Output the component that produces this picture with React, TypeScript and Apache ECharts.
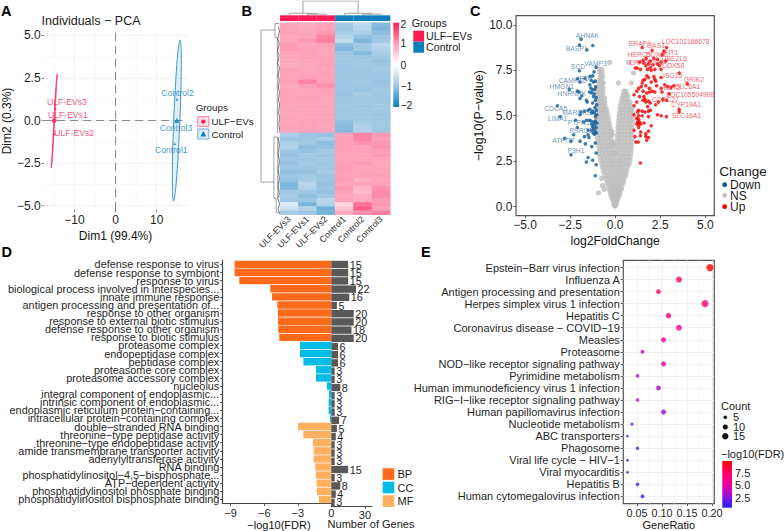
import React, { useEffect, useRef } from "react";
import * as echarts from "echarts";

const FONT = "Liberation Sans";
const RED = "#ff1a55";
const BLUE = "#0a7ebe";
const INK = "#1f1f1f";
const M = "\u2212";

// ---------- Panel A ----------
const pcaUlf = [[-14.7, 0.7], [-15.0, -0.8]];
const pcaUlfMean = [[-14.9, 0.0]];
const pcaCtrl = [[14.9, 1.25], [14.4, -1.35]];
const pcaCtrlMean = [[14.9, 0.0]];
const pcaLabels = [
  { value: [-11.83, 1.09], name: "ULF-EVs3", c: RED },
  { value: [-11.6, 0.32], name: "ULF-EVs1", c: RED },
  { value: [-10.07, -0.72], name: "ULF-EVs2", c: RED },
  { value: [15.07, 1.6], name: "Control2", c: BLUE },
  { value: [14.7, -0.46], name: "Control3", c: BLUE },
  { value: [13.57, -1.74], name: "Control1", c: BLUE },
];
const ellipseUlf = [[-14.2, 2.73], [-14.38, 2], [-14.83, 0], [-15.32, -2], [-15.64, -2.78], [-15.42, -2], [-14.97, 0], [-14.5, 2]];
const ellipseCtrl = [[15.7, 4.72], [15.97, 4.09], [15.95, 2.36], [15.65, 0], [15.15, -2.36], [14.58, -4.09], [14.1, -4.72], [13.83, -4.09], [13.85, -2.36], [14.15, 0], [14.65, 2.36], [15.2, 4.09]];
const pcaMinorX = [-15, -5, 5, 15];
const pcaMinorY = [-3.75, -1.25, 1.25, 3.75];

// ---------- Panel B ----------
const heatCols = ["ULF-EVs3", "ULF-EVs1", "ULF-EVs2", "Control1", "Control2", "Control3"];
const heatRows = [
  [0.95, 0.9, 1.0, -0.95, -0.7, -1.15],
  [0.95, 0.92, 0.98, -1.0, -0.72, -1.2],
  [1.0, 0.95, 1.05, -0.9, -0.85, -1.1],
  [0.92, 0.95, 1.2, -0.72, -1.05, -1.0],
  [0.95, 1.05, 1.25, -0.6, -1.2, -0.95],
  [1.05, 0.95, 1.0, -1.1, -0.95, -0.7],
  [1.05, 1.0, 0.95, -1.2, -0.95, -0.8],
  [0.98, 1.0, 0.95, -1.0, -1.15, -0.9],
  [0.95, 0.98, 0.98, -0.95, -1.0, -0.98],
  [0.92, 0.95, 0.97, -0.98, -0.95, -1.05],
  [0.88, 0.95, 1.0, -1.0, -0.95, -1.0],
  [0.98, 0.95, 0.95, -1.02, -1.0, -0.92],
  [0.95, 0.96, 0.98, -1.0, -0.98, -0.98],
  [0.96, 1.0, 0.95, -0.98, -1.0, -1.0],
  [0.98, 1.22, 1.0, -0.98, -0.95, -1.02],
  [0.9, 1.02, 1.12, -1.0, -1.0, -1.0],
  [0.97, 0.95, 0.98, -1.0, -1.02, -0.95],
  [0.96, 0.97, 0.95, -1.02, -0.9, -0.98],
  [0.98, 0.98, 0.97, -0.98, -0.96, -1.0],
  [0.98, 0.95, 0.95, -1.0, -0.98, -0.98],
  [0.95, 0.98, 0.97, -0.98, -1.0, -0.95],
  [0.97, 0.96, 0.96, -1.0, -0.96, -0.96],
  [0.95, 0.98, 0.98, -0.98, -0.98, -1.0],
  [0.96, 0.97, 0.95, -0.98, -0.95, -1.0],
  [0.93, 0.98, 0.96, -1.1, -0.9, -0.92],
  [0.98, 0.98, 0.94, -1.15, -0.8, -0.95],
  [0.95, 1.0, 0.95, -1.15, -0.82, -0.98],
  [-0.85, -1.0, -1.05, 0.95, 1.22, 1.05],
  [-1.0, -1.0, -0.9, 0.98, 1.2, 1.0],
  [-0.85, -0.95, -1.1, 1.0, 1.1, 1.05],
  [-0.8, -1.08, -1.05, 0.98, 0.98, 1.1],
  [-1.0, -1.05, -0.95, 1.0, 1.0, 1.02],
  [-1.05, -0.95, -1.0, 0.98, 0.95, 1.05],
  [-1.0, -1.0, -0.95, 1.0, 0.98, 0.98],
  [-1.05, -0.95, -1.0, 0.98, 1.05, 0.95],
  [-0.98, -1.0, -0.98, 1.02, 0.95, 0.96],
  [-1.05, -1.05, -0.88, 1.0, 0.95, 0.95],
  [-1.0, -0.95, -0.98, 0.96, 1.0, 1.0],
  [-1.05, -0.9, -1.0, 1.02, 0.85, 0.95],
  [-1.18, -0.72, -1.05, 0.95, 0.95, 0.98],
  [-1.2, -0.8, -1.0, 1.05, 0.78, 1.1],
  [-0.95, -0.95, -1.05, 1.0, 0.72, 1.15],
  [-0.92, -1.08, -0.95, 0.95, 0.85, 1.15],
  [-0.98, -1.0, -0.72, 1.0, 0.9, 1.05],
  [-0.35, -1.25, -0.8, 0.45, 1.35, 1.05],
  [-0.55, -0.75, -1.3, 0.6, 1.5, 1.0],
  [-0.9, -1.0, -1.25, 0.9, 1.15, 1.25],
];
const heatStops = [BLUE, "#9cc6e3", "#ffffff", "#fda0b8", RED];
const heatLegendTicks = [{ t: "2", y: 24 }, { t: "1", y: 43.5 }, { t: "0", y: 65 }, { t: M + "1", y: 86 }, { t: M + "2", y: 105.5 }];
const dendroTop = [
  [1.25, 0.14], [1.25, 1], [4.25, 1], [4.25, 0.14], ["-", "-"],
  [0.5, 0], [0.5, 0.14], [2, 0.14], [2, 0.08], ["-", "-"],
  [1.5, 0], [1.5, 0.08], [2.5, 0.08], [2.5, 0], ["-", "-"],
  [3.5, 0], [3.5, 0.14], [5, 0.14], [5, 0.08], ["-", "-"],
  [4.5, 0], [4.5, 0.08], [5.5, 0.08], [5.5, 0],
];
const dendroSide = [
  [0.26, 1.8], [1, 1.8], [1, 39], [0.32, 39], ["-", "-"],
  [0.26, 0.2], [0.26, 3.6], ["-", "-"], [0.26, 0.2], [0.05, 0.2], ["-", "-"], [0.26, 3.6], [0.14, 3.6], [0.14, 26.8], [0.02, 26.8], ["-", "-"],
  [0.32, 28], [0.32, 43], ["-", "-"], [0.32, 28], [0.12, 28], [0.12, 43], ["-", "-"], [0.32, 43], [0.2, 43], [0.2, 46.5], [0.03, 46.5], ["-", "-"],
];
const dendroComb = [
  [0.1, 1], [0.02, 2], [0.12, 4], [0.04, 5], [0.13, 7], [0.05, 8], [0.12, 10], [0.03, 11], [0.1, 13], [0.04, 14], [0.09, 16], [0.03, 17], [0.08, 19], [0.02, 20], [0.08, 22], [0.03, 23], [0.06, 25], [0.02, 26.5], ["-", "-"],
  [0.1, 28], [0.03, 30], [0.1, 32], [0.03, 34], [0.1, 36], [0.03, 38], [0.1, 40], [0.03, 42], [0.12, 43], [0.02, 44.5], [0.1, 45.5], [0.02, 46.8],
];

// ---------- Panel C ----------
const volcanoDown = [
  [-1.89, 9.21], [-1.98, 8.88], [-1.57, 8.62], [-1.24, 8.86], [-1.06, 7.67], [-1.98, 7.47], [-1.17, 7.41], [-1.24, 7.19], [-1.39, 7.16], [-1.67, 7.06], [-2.09, 7.03], [-1.95, 6.85], [-1.33, 6.95], [-1.2, 6.85], [-1.1, 6.9], [-1.4, 6.7], [-1.08, 6.6], [-1.35, 6.52], [-1.25, 6.42], [-1.12, 6.45], [-1.42, 6.3], [-1.3, 6.25], [-1.15, 6.2], [-2.1, 6.35], [-2.0, 6.3], [-2.55, 6.45], [-1.85, 6.1], [-1.2, 6.05], [-1.05, 6.0], [-1.1, 5.85], [-1.6, 5.85], [-1.55, 5.75], [-1.95, 5.95], [-1.25, 5.7], [-1.02, 5.6], [-1.12, 5.45], [-3.2, 5.55], [-1.4, 5.35], [-1.5, 5.3], [-1.7, 5.25], [-1.25, 5.25], [-1.05, 5.3], [-1.3, 5.15], [-1.15, 5.15], [-1.9, 5.2], [-1.95, 5.05], [-3.05, 4.95], [-1.02, 5.05], [-1.1, 4.95], [-1.6, 4.75], [-1.45, 4.75], [-1.35, 4.72], [-2.2, 4.75], [-1.2, 4.65], [-1.1, 4.7], [-1.02, 4.6], [-1.3, 4.55], [-1.15, 4.5], [-1.25, 4.4], [-1.05, 4.35], [-1.2, 4.3], [-1.75, 4.65], [-2.1, 4.35], [-1.5, 4.2], [-1.3, 4.2], [-1.12, 4.15], [-1.05, 4.05], [-1.15, 3.98], [-1.22, 4.05], [-2.3, 3.95], [-1.5, 3.95], [-1.7, 3.85], [-1.45, 3.8], [-2.8, 3.75], [-2.45, 3.6], [-1.95, 3.6], [-1.65, 3.45], [-1.3, 3.3], [-2.45, 2.85], [-1.05, 2.95], [-1.5, 2.7], [-1.6, 2.45], [-1.25, 2.55], [-1.05, 2.3], [-1.1, 1.7], [-1.1, 3.5],
];
const volcanoUp = [
  [1.5, 8.75], [2.05, 8.6], [2.85, 8.75], [2.7, 8.55], [2.6, 8.35], [1.72, 8.15], [1.55, 8.05], [2.15, 8.15], [2.35, 8.1], [1.95, 8.0], [2.8, 8.0], [2.55, 7.95], [2.35, 7.85], [1.35, 7.95], [1.6, 7.9], [1.85, 7.85], [2.1, 7.8], [1.7, 7.75], [1.95, 7.65], [2.2, 7.55], [2.45, 7.75], [2.55, 7.55], [2.0, 7.5], [1.8, 7.55], [1.12, 7.62], [1.22, 7.62], [1.4, 7.55], [1.75, 7.2], [1.85, 7.1], [1.65, 7.0], [1.55, 6.95], [2.15, 7.15], [2.2, 7.0], [2.25, 6.9], [2.0, 6.85], [2.55, 7.1], [2.75, 6.7], [3.55, 7.35], [4.0, 6.75], [3.25, 6.65], [3.1, 6.55], [2.9, 6.6], [1.5, 6.8], [1.45, 6.6], [1.7, 6.65], [2.3, 6.65], [2.55, 6.5], [2.6, 6.3], [1.9, 6.5], [1.3, 6.5], [1.2, 6.35], [1.05, 6.15], [1.55, 6.35], [1.75, 6.25], [1.9, 6.3], [2.05, 6.35], [2.2, 6.3], [3.0, 6.2], [1.35, 6.05], [1.6, 6.05], [1.65, 5.9], [1.7, 5.75], [1.55, 5.85], [1.85, 5.8], [1.95, 5.7], [2.4, 5.75], [2.65, 5.9], [2.85, 5.85], [1.2, 5.75], [1.05, 5.55], [1.8, 5.5], [2.25, 5.6], [3.55, 5.35], [1.95, 5.3], [1.85, 5.25], [1.5, 5.25], [1.3, 5.3], [1.25, 5.2], [1.65, 5.2], [2.35, 5.05], [2.55, 5.0], [2.85, 4.95], [3.55, 5.2], [1.05, 5.05], [1.3, 5.0], [1.5, 5.0], [1.85, 4.95], [1.3, 4.8], [1.35, 4.65], [1.25, 4.65], [1.42, 4.55], [1.3, 4.5], [1.2, 4.85], [1.2, 4.55], [1.6, 4.6], [2.0, 4.45], [1.3, 4.35], [1.05, 4.2], [1.42, 4.1], [1.4, 3.9], [1.1, 3.85], [1.7, 3.85], [1.85, 3.8], [1.75, 3.65], [1.85, 4.15], [1.7, 4.0], [1.15, 3.55], [1.28, 3.55], [1.4, 2.4],
];
const volcanoNsRows: [number, number[]][] = [
  [0.05, [-0.02, 0.02, 0]],
  [0.15, [-0.06, 0.05, 0.01]],
  [0.3, [-0.11, -0.03, 0.04, 0.1]],
  [0.45, [-0.16, -0.07, 0.02, 0.09, 0.16]],
  [0.6, [-0.22, -0.12, -0.03, 0.06, 0.13, 0.22]],
  [0.75, [-0.27, -0.16, -0.05, 0.04, 0.15, 0.27, -0.93]],
  [0.95, [-0.33, -0.22, -0.1, 0.02, 0.14, 0.25, 0.35, -0.62]],
  [1.15, [-0.4, -0.27, -0.13, 0, 0.12, 0.24, 0.38, -0.7]],
  [1.35, [-0.46, -0.32, -0.17, -0.04, 0.1, 0.23, 0.33, 0.47]],
  [1.55, [-0.52, -0.37, -0.21, -0.07, 0.08, 0.21, 0.36, 0.5, -0.75]],
  [1.75, [-0.58, -0.42, -0.26, -0.1, 0.05, 0.2, 0.34, 0.48, 0.6]],
  [1.95, [-0.65, -0.47, -0.3, -0.13, 0.03, 0.18, 0.33, 0.49, 0.64]],
  [2.15, [-0.7, -0.53, -0.35, -0.17, -0.02, 0.16, 0.32, 0.5, 0.68]],
  [2.35, [-0.74, -0.56, -0.38, -0.2, -0.05, 0.14, 0.3, 0.48, 0.66, 0.78]],
  [2.55, [-0.8, -0.62, -0.43, -0.25, -0.08, 0.12, 0.28, 0.46, 0.64, 0.82]],
  [2.75, [-0.84, -0.66, -0.46, -0.28, -0.1, 0.12, 0.3, 0.5, 0.68, 0.85]],
  [2.95, [-0.88, -0.7, -0.5, -0.32, -0.14, -0.03, 0.06, 0.26, 0.46, 0.66, 0.87]],
  [3.15, [-0.88, -0.72, -0.54, -0.36, -0.18, 0.08, 0.28, 0.48, 0.68, 0.88]],
  [3.35, [-0.92, -0.74, -0.56, -0.38, -0.2, -0.1, 0.1, 0.3, 0.5, 0.7, 0.9]],
  [3.55, [-0.95, -0.77, -0.58, -0.4, -0.22, -0.12, 0.12, 0.32, 0.52, 0.72, 0.9]],
  [3.75, [-0.97, -0.8, -0.6, -0.42, -0.24, 0.12, 0.3, 0.5, 0.7, 0.92]],
  [3.95, [-0.98, -0.8, -0.62, -0.44, -0.26, -0.16, 0.14, 0.34, 0.54, 0.74, 0.9]],
  [4.15, [-1.0, -0.82, -0.64, -0.46, -0.28, -0.19, 0.16, 0.36, 0.56, 0.76, 0.93]],
  [4.35, [-1.0, -0.84, -0.66, -0.48, -0.3, 0.16, 0.34, 0.54, 0.74, 0.92]],
  [4.55, [-1.0, -0.85, -0.68, -0.5, -0.33, 0.18, 0.38, 0.58, 0.78, 0.95]],
  [4.75, [-1.02, -0.86, -0.7, -0.53, -0.36, 0.2, 0.4, 0.6, 0.8, 0.97]],
  [4.95, [-1.0, -0.85, -0.7, -0.55, -0.39, 0.22, 0.42, 0.62, 0.82, 0.96]],
  [5.15, [-1.0, -0.86, -0.72, -0.58, -0.44, 0.24, 0.42, 0.62, 0.82, 0.95]],
  [5.35, [-1.0, -0.86, -0.72, -0.58, -0.48, 0.27, 0.45, 0.65, 0.82, 0.92]],
  [5.55, [-0.99, -0.84, -0.7, -0.56, 0.3, 0.48, 0.66, 0.84]],
  [5.75, [-0.98, -0.84, -0.7, -0.58, 0.34, 0.5, 0.68, 0.82]],
  [5.95, [-0.98, -0.84, -0.7, -0.6, 0.38, 0.54, 0.7]],
  [6.15, [-0.96, -0.82, -0.68, 0.44, 0.58, 0.68]],
  [6.35, [-0.94, -0.8, -0.68, 0.5, 0.6]],
  [6.55, [-0.92, -0.78, -0.68]],
  [6.8, [-0.9, -0.76, -0.66, 0.18, 0.9]],
  [6.95, [-0.88, -0.74]],
  [7.15, [-0.82, -0.7]],
  [7.35, [-0.85, -0.72, 1.02]],
  [7.55, [-0.75, -0.9]],
  [7.93, [-0.31, 0.74]],
];
const volcanoNs = volcanoNsRows.flatMap(([y, xs]) => xs.map((x) => [x, y]));
const volcanoDownLabels = [
  { value: [-1.54, 9.39], name: "AHNAK" }, { value: [-2.13, 8.72], name: "BASP1" }, { value: [-1.09, 7.89], name: "VAMP3" }, { value: [-2.06, 7.69], name: "SCD" },
  { value: [-2.35, 6.95], name: "CAMK2D" }, { value: [-1.67, 7.06], name: "IPO7" }, { value: [-2.96, 6.59], name: "HMGN1" }, { value: [-2.41, 6.22], name: "HNRNPK" },
  { value: [-3.3, 5.41], name: "CDCA5" }, { value: [-2.13, 5.17], name: "MARCKS" }, { value: [-3.19, 4.84], name: "LIMA1" }, { value: [-1.91, 4.6], name: "PTPN13" },
  { value: [-1.91, 4.18], name: "RSRC1" }, { value: [-2.87, 3.61], name: "ATF7IP" }, { value: [-2.17, 3.08], name: "P3H1" },
];
const volcanoUpLabels = [
  { value: [1.37, 8.95], name: "ERAP1" }, { value: [2.26, 8.84], name: "OAS1" }, { value: [3.91, 9.06], name: "LOC102166678" }, { value: [3.06, 8.48], name: "IFIT1" },
  { value: [1.33, 8.39], name: "HERC5" }, { value: [2.31, 8.35], name: "DDX60" }, { value: [3.28, 8.15], name: "UBE2L6" }, { value: [1.41, 7.94], name: "ERAP2" },
  { value: [2.25, 7.9], name: "IDO1" }, { value: [3.22, 7.76], name: "DDX58" }, { value: [3.19, 7.19], name: "ISG15" }, { value: [4.37, 6.99], name: "GRIK2" },
  { value: [3.15, 6.57], name: "BST2" }, { value: [4.02, 6.61], name: "SLC6A1" }, { value: [4.17, 6.15], name: "LOC105504908" }, { value: [2.78, 5.87], name: "CCDC27" },
  { value: [3.94, 5.6], name: "CYP19A1" }, { value: [3.96, 5.01], name: "SLC16A1" },
];

// ---------- Panel D ----------
const goTerms = [
  "defense response to virus", "defense response to symbiont", "response to virus", "biological process involved in interspecies...", "innate immune response",
  "antigen processing and presentation of...", "response to other organism", "response to external biotic stimulus", "defense response to other organism", "response to biotic stimulus",
  "proteasome complex", "endopeptidase complex", "peptidase complex", "proteasome core complex", "proteasome accessory complex",
  "nucleolus", "integral component of endoplasmic...", "intrinsic component of endoplasmic...", `endoplasmic reticulum protein${M}containing...`, `intracellular protein${M}containing complex`,
  `double${M}stranded RNA binding`, `threonine${M}type peptidase activity`, `threonine${M}type endopeptidase activity`, "amide transmembrane transporter activity", "adenylyltransferase activity",
  "RNA binding", `phosphatidylinositol${M}4,5${M}bisphosphate...`, `ATP${M}dependent activity`, "phosphatidylinositol phosphate binding", "phosphatidylinositol bisphosphate binding",
];
const goFdr = [8.65, 8.65, 8.23, 5.46, 5.3, 4.83, 4.77, 4.77, 4.74, 4.65, 2.8, 2.8, 2.5, 1.37, 1.37, 0.39, 0.21, 0.24, 0.24, 0.12, 2.98, 2.5, 1.64, 1.58, 1.58, 1.43, 1.4, 1.31, 1.28, 1.1];
const goGenes = [15, 15, 15, 22, 16, 5, 20, 20, 18, 20, 6, 6, 6, 3, 3, 8, 3, 3, 3, 7, 5, 4, 3, 3, 3, 15, 3, 8, 4, 3];
const goColors = { BP: "#ff6a1a", CC: "#00bde8", MF: "#ffb05e" };
const goGroups = ["BP", "BP", "BP", "BP", "BP", "BP", "BP", "BP", "BP", "BP", "CC", "CC", "CC", "CC", "CC", "CC", "CC", "CC", "CC", "CC", "MF", "MF", "MF", "MF", "MF", "MF", "MF", "MF", "MF", "MF"];

// ---------- Panel E ----------
const keggTerms = [
  `Epstein${M}Barr virus infection`, "Influenza A", "Antigen processing and presentation", "Herpes simplex virus 1 infection", "Hepatitis C", `Coronavirus disease ${M} COVID${M}19`, "Measles", "Proteasome",
  `NOD${M}like receptor signaling pathway`, "Pyrimidine metabolism", "Human immunodeficiency virus 1 infection", `RIG${M}I${M}like receptor signaling pathway`, "Human papillomavirus infection", "Nucleotide metabolism",
  "ABC transporters", "Phagosome", `Viral life cycle ${M} HIV${M}1`, "Viral myocarditis", "Hepatitis B", "Human cytomegalovirus infection",
];
const keggRatio = [0.196, 0.134, 0.093, 0.186, 0.113, 0.134, 0.103, 0.061, 0.103, 0.051, 0.093, 0.051, 0.103, 0.04, 0.031, 0.051, 0.031, 0.031, 0.051, 0.061];
const keggCount = [19, 13, 9, 18, 11, 13, 10, 6, 10, 5, 9, 5, 10, 4, 3, 5, 3, 3, 5, 6];
const keggFdr = [10, 7.7, 7.5, 7.0, 6.0, 5.6, 5.3, 5.1, 4.6, 3.9, 3.6, 3.3, 3.1, 2.1, 1.9, 1.6, 1.3, 1.1, 0.9, 0.6];
const keggStops = ["#1f1fff", "#9a10d8", "#ea00a4", "#ff0064", "#ff0000"];
const keggMinorX = [0.075, 0.125, 0.175];
const keggSizeTicks = [{ t: "5", c: 5, y: 417.3 }, { t: "10", c: 10, y: 427 }, { t: "15", c: 15, y: 436.3 }];
const keggColorTicks = [{ t: "7.5", y: 473.3 }, { t: "5.0", y: 485.2 }, { t: "2.5", y: 497.7 }];

const fmtNum = (d: number) => (v: number) => v.toFixed(d).replace("-", M);
const dotSize = (c: number) => 1.7 * Math.sqrt(c) - 0.2;

function hiddenAxis(gridIndex: number, min: number, max: number, inverse = false) {
  return { type: "value", gridIndex, min, max, inverse, show: false, splitLine: { show: false } };
}

function valueAxis(gridIndex: number, min: number, max: number, ticks: number[], digits: number, size: number, extra: any = {}) {
  const { axisLine, splitLine, tickColor, ...rest } = extra;
  return {
    type: "value", gridIndex, min, max,
    axisLine: axisLine || { show: false, onZero: false },
    axisTick: { show: true, length: 2.5, customValues: ticks, lineStyle: { color: tickColor || "#555" } },
    axisLabel: { customValues: ticks, formatter: fmtNum(digits), fontSize: size, color: INK, fontFamily: FONT, margin: 3.5 },
    splitLine: splitLine || { show: false },
    nameTextStyle: { color: "#111", fontFamily: FONT },
    ...rest,
  };
}

function guideLines(xIdx: number, yIdx: number, xs: number[], ys: number[], xr: number[], yr: number[], color: string, width = 0.8) {
  const data: any[] = [];
  xs.forEach((x) => data.push([x, yr[0]], [x, yr[1]], ["-", "-"]));
  ys.forEach((y) => data.push([xr[0], y], [xr[1], y], ["-", "-"]));
  return { type: "line", xAxisIndex: xIdx, yAxisIndex: yIdx, data, symbol: "none", silent: true, z: 1, lineStyle: { color, width } };
}

function txt(x: number, y: number, text: string, fontSize: number, extra: any = {}) {
  return { type: "text", x, y, silent: true, style: { text, fontSize, fontFamily: FONT, fill: "#1a1a1a", align: "left", verticalAlign: "middle", ...extra } };
}
const box = (x: number, y: number, w: number, h: number, fill: any, stroke?: string) => ({
  type: "rect", x, y, shape: { x: 0, y: 0, width: w, height: h }, silent: true, style: { fill, stroke: stroke || "none", lineWidth: 1 },
});
const dot = (x: number, y: number, r: number, fill: string) => ({ type: "circle", x, y, shape: { cx: 0, cy: 0, r }, silent: true, style: { fill } });

function polygonSeries(points: number[][], fill: string, stroke: string) {
  return {
    type: "custom", xAxisIndex: 0, yAxisIndex: 0, data: points, z: 3, silent: true,
    encode: { x: 0, y: 1 },
    renderItem: (params: any, api: any) =>
      params.dataIndex === 0
        ? { type: "polygon", shape: { points: points.map((p) => api.coord(p)), smooth: 0.35 }, style: { fill, stroke, lineWidth: 0.9 } }
        : null,
  };
}

function labelSeries(xIdx: number, yIdx: number, data: any[], size: number, color?: string) {
  return {
    type: "scatter", xAxisIndex: xIdx, yAxisIndex: yIdx, symbolSize: 0, z: 8, silent: true,
    data: data.map((d) => ({ value: d.value, name: d.name, label: { color: color || d.c } })),
    label: { show: true, position: "inside", formatter: "{b}", fontSize: size, fontFamily: FONT, align: "center", verticalAlign: "middle" },
  };
}

function buildOption() {
  const heatData: number[][] = [];
  heatRows.forEach((row, r) => row.forEach((v, c) => heatData.push([c, r, v])));
  const rowNames = heatRows.map((_, i) => String(i));

  const axisDark = { show: true, onZero: false, lineStyle: { color: "#444", width: 1.2 } };

  const grid = [
    { left: 41, top: 32, width: 146, height: 178 }, // 0 A
    { left: 280, top: 22.7, width: 110.3, height: 192 }, // 1 B heat
    { left: 280, top: 15.3, width: 110.3, height: 5.7 }, // 2 B annotation
    { left: 280, top: 1, width: 110.3, height: 14.3 }, // 3 top dendrogram
    { left: 261, top: 22.7, width: 19, height: 192 }, // 4 side dendrogram
    { left: 516, top: 15.7, width: 198.3, height: 200, show: true, borderColor: "#555", borderWidth: 1.2, backgroundColor: "transparent" }, // 5 C
    { left: 222.3, top: 260.4, width: 109, height: 246 }, // 6 D left
    { left: 331.3, top: 260.4, width: 40.4, height: 246 }, // 7 D right
    { left: 623.3, top: 260.3, width: 91, height: 247, show: true, borderColor: "#555", borderWidth: 1.2, backgroundColor: "transparent" }, // 8 E
  ];

  const xAxis: any[] = [
    valueAxis(0, -17.38, 17.38, [-10, 0, 10], 0, 12, { name: "Dim1 (99.4%)", nameLocation: "middle", nameGap: 20, nameTextStyle: { fontSize: 12, color: "#111", fontFamily: FONT }, splitLine: { show: true, lineStyle: { color: "#ededed", width: 0.8 } }, tickColor: "#888" }),
    { type: "category", gridIndex: 1, data: heatCols, axisLine: { show: false }, axisTick: { show: false }, axisLabel: { rotate: 45, interval: 0, fontSize: 8.8, color: INK, fontFamily: FONT, margin: 3 } },
    { type: "category", gridIndex: 2, data: heatCols, show: false },
    hiddenAxis(3, 0, 6),
    hiddenAxis(4, 0, 1, true),
    valueAxis(5, -5.5, 5.5, [-5, -2.5, 0, 2.5, 5], 1, 12, { name: "log2FoldChange", nameLocation: "middle", nameGap: 19, nameTextStyle: { fontSize: 12.2, color: "#111", fontFamily: FONT } }),
    valueAxis(6, -9.75, 0, [-9, -6, -3, 0], 0, 11, { axisLine: axisDark, name: `${M}log10(FDR)`, nameLocation: "middle", nameGap: 15.5, nameTextStyle: { fontSize: 11, color: "#111", fontFamily: FONT, padding: [0, 0, 0, 4.4] } }),
    valueAxis(7, 0, 36, [30], 0, 11, { axisLine: axisDark }),
    valueAxis(8, 0.0226, 0.2046, [0.05, 0.1, 0.15, 0.2], 2, 10.8, { name: "GeneRatio", nameLocation: "middle", nameGap: 15, nameTextStyle: { fontSize: 11, color: "#111", fontFamily: FONT }, splitLine: { show: true, lineStyle: { color: "#ebebeb", width: 0.8 } } }),
  ];

  const yAxis: any[] = [
    valueAxis(0, -5.25, 5.2, [-5, -2.5, 0, 2.5, 5], 1, 12, { name: "Dim2 (0.3%)", nameLocation: "middle", nameGap: 24, nameTextStyle: { fontSize: 12, color: "#111", fontFamily: FONT }, splitLine: { show: true, lineStyle: { color: "#ededed", width: 0.8 } }, tickColor: "#888" }),
    { type: "category", gridIndex: 1, data: rowNames, inverse: true, show: false },
    { type: "value", gridIndex: 2, min: 0, max: 1, show: false, splitLine: { show: false } },
    hiddenAxis(3, 0, 1),
    hiddenAxis(4, 0, 47, true),
    valueAxis(5, -0.5, 10.5, [0, 2.5, 5, 7.5, 10], 1, 12, { name: `${M}log10(P${M}value)`, nameLocation: "middle", nameGap: 26, nameTextStyle: { fontSize: 12.4, color: "#111", fontFamily: FONT } }),
    { type: "category", gridIndex: 6, data: goTerms, inverse: true, axisLine: axisDark, axisTick: { show: true, length: 2, alignWithLabel: true, lineStyle: { color: "#444" } }, axisLabel: { interval: 0, fontSize: 10.9, color: INK, fontFamily: FONT, margin: 3, padding: [0, 0, 3, 0] } },
    { type: "category", gridIndex: 7, data: goTerms, inverse: true, show: false },
    {
      type: "value", gridIndex: 8, min: -0.6, max: 19.6, inverse: true,
      axisLine: { show: false, onZero: false },
      axisTick: { show: true, length: 2.5, customValues: keggTerms.map((_, i) => i), lineStyle: { color: "#555" } },
      axisLabel: { customValues: keggTerms.map((_, i) => i), formatter: (v: number) => keggTerms[v], fontSize: 11, color: INK, fontFamily: FONT, margin: 3.5 },
      splitLine: { show: true, lineStyle: { color: "#ebebeb", width: 0.8 } },
    },
  ];

  const series: any[] = [
    guideLines(0, 0, pcaMinorX, pcaMinorY, [-17.38, 17.38], [-5.25, 5.2], "#f6f6f6"),
    polygonSeries(ellipseUlf, "rgba(255,26,85,0.12)", "#ff2d60"),
    polygonSeries(ellipseCtrl, "rgba(20,130,190,0.12)", "#2a8ec5"),
    { type: "line", xAxisIndex: 0, yAxisIndex: 0, data: [[0, -5.25], [0, 5.2], ["-", "-"], [-17.38, 0], [17.38, 0]], symbol: "none", z: 2, silent: true, lineStyle: { color: "#8a8a8a", width: 1.1, type: [8, 5] } },
    { type: "scatter", xAxisIndex: 0, yAxisIndex: 0, data: pcaUlf, symbol: "circle", symbolSize: 2.5, itemStyle: { color: RED }, z: 5 },
    { type: "scatter", xAxisIndex: 0, yAxisIndex: 0, data: pcaUlfMean, symbol: "circle", symbolSize: 5, itemStyle: { color: RED }, z: 5 },
    { type: "scatter", xAxisIndex: 0, yAxisIndex: 0, data: pcaCtrl, symbol: "triangle", symbolSize: 2.8, itemStyle: { color: BLUE }, z: 5 },
    { type: "scatter", xAxisIndex: 0, yAxisIndex: 0, data: pcaCtrlMean, symbol: "triangle", symbolSize: 5.5, itemStyle: { color: BLUE }, z: 5 },
    labelSeries(0, 0, pcaLabels, 8.6),

    { id: "heat", type: "heatmap", xAxisIndex: 1, yAxisIndex: 1, data: heatData, progressive: 0, itemStyle: { borderWidth: 0 } },
    { type: "bar", xAxisIndex: 2, yAxisIndex: 2, barWidth: "100%", data: heatCols.map((n) => ({ value: 1, itemStyle: { color: n.startsWith("ULF") ? RED : BLUE } })), silent: true },
    { type: "line", xAxisIndex: 3, yAxisIndex: 3, data: dendroTop, symbol: "none", silent: true, lineStyle: { color: "#8a8a8a", width: 0.8 } },
    { type: "line", xAxisIndex: 4, yAxisIndex: 4, data: dendroSide, symbol: "none", silent: true, lineStyle: { color: "#8a8a8a", width: 0.8 } },
    { type: "line", xAxisIndex: 4, yAxisIndex: 4, data: dendroComb, symbol: "none", silent: true, lineStyle: { color: "#444", width: 0.7 } },

    { type: "scatter", xAxisIndex: 5, yAxisIndex: 5, data: volcanoNs, symbolSize: 5.4, itemStyle: { color: "#bebebe" }, z: 3, silent: true },
    { type: "scatter", xAxisIndex: 5, yAxisIndex: 5, data: volcanoDown, symbolSize: 3.6, itemStyle: { color: "#0f5a96" }, z: 4, silent: true },
    { type: "scatter", xAxisIndex: 5, yAxisIndex: 5, data: volcanoUp, symbolSize: 3.6, itemStyle: { color: "#f00000" }, z: 4, silent: true },
    labelSeries(5, 5, volcanoDownLabels, 6.8, "#3f78ad"),
    labelSeries(5, 5, volcanoUpLabels, 6.8, "#f6303f"),

    {
      type: "bar", xAxisIndex: 6, yAxisIndex: 6, barWidth: 7.4, silent: true,
      data: goFdr.map((v, i) => ({ value: -v, itemStyle: { color: (goColors as any)[goGroups[i]] } })),
    },
    {
      type: "bar", xAxisIndex: 7, yAxisIndex: 7, barWidth: 7.4, silent: true, data: goGenes, itemStyle: { color: "#595959" },
      label: { show: true, position: "right", distance: 1.5, fontSize: 10.8, color: INK, fontFamily: FONT },
    },

    guideLines(8, 8, keggMinorX, [], [0.0226, 0.2046], [-0.6, 19.6], "#f3f3f3"),
    {
      id: "kegg", type: "scatter", xAxisIndex: 8, yAxisIndex: 8, z: 5, silent: true,
      data: keggRatio.map((r, i) => [r, i, keggFdr[i], keggCount[i]]),
      symbolSize: (v: number[]) => dotSize(v[3]),
    },
  ];

  const heatIdx = series.findIndex((s) => s.id === "heat");
  const keggIdx = series.findIndex((s) => s.id === "kegg");

  const graphic: any[] = [
    txt(1, 10.5, "A", 14.5, { fontWeight: "bold", fill: "#000" }),
    txt(241.5, 10.5, "B", 14.5, { fontWeight: "bold", fill: "#000" }),
    txt(470, 10.5, "C", 14.5, { fontWeight: "bold", fill: "#000" }),
    txt(1.5, 252, "D", 14.5, { fontWeight: "bold", fill: "#000" }),
    txt(421, 252, "E", 14.5, { fontWeight: "bold", fill: "#000" }),

    txt(41.5, 21, `Individuals ${M} PCA`, 12.5),
    txt(195.7, 107.5, "Groups", 9.8),
    box(197.8, 116.6, 11, 10, "rgba(255,26,85,0.14)", "#ff7a9a"),
    dot(203.3, 121.6, 2.2, RED),
    box(197.8, 129, 11, 10, "rgba(20,130,190,0.14)", "#6fb2d8"),
    { type: "polygon", silent: true, shape: { points: [[203.3, 131], [206.2, 136.4], [200.4, 136.4]] }, style: { fill: BLUE } },
    txt(211.5, 121.6, `ULF${M}EVs`, 9.8),
    txt(211.5, 134, "Control", 9.8),

    box(393.3, 22.7, 5.8, 84.3, {
      type: "linear", x: 0, y: 0, x2: 0, y2: 1,
      colorStops: [...heatStops].reverse().map((color, i) => ({ offset: i / (heatStops.length - 1), color })),
    }),
    ...heatLegendTicks.map((t) => txt(400.5, t.y, t.t, 10.4)),
    txt(411.7, 23, "Groups", 10.7),
    box(413.3, 30.7, 10.8, 11, RED),
    box(413.3, 41.7, 10.8, 11, BLUE),
    txt(426, 36.3, `ULF${M}EVs`, 10.7),
    txt(426, 47.3, "Control", 10.7),

    txt(719.3, 171.3, "Change", 13.6),
    dot(724.7, 184.7, 2.4, "#0f5a96"), txt(730, 184.7, "Down", 12),
    dot(724.7, 195.5, 2.4, "#bebebe"), txt(730, 195.5, "NS", 12),
    dot(724.7, 206.7, 2.4, "#f00000"), txt(730, 206.7, "Up", 12),

    box(382.7, 468.3, 11.6, 11.6, goColors.BP),
    box(382.7, 481.7, 11.6, 11.6, goColors.CC),
    box(382.7, 495.3, 11.6, 11.6, goColors.MF),
    txt(397.5, 474.2, "BP", 11),
    txt(397.5, 487.6, "CC", 11),
    txt(397.5, 501, "MF", 11),
    txt(371, 524, "Number of Genes", 11, { align: "center" }),

    txt(721, 405.7, "Count", 11),
    ...keggSizeTicks.flatMap((t) => [dot(725.3, t.y, dotSize(t.c) / 2, "#111"), txt(733, t.y, t.t, 11)]),
    txt(721, 454, `${M}log10(FDR)`, 11),
    box(722.3, 461, 9.7, 46.7, {
      type: "linear", x: 0, y: 1, x2: 0, y2: 0,
      colorStops: keggStops.map((color, i) => ({ offset: i / (keggStops.length - 1), color })),
    }),
    ...keggColorTicks.map((t) => txt(735, t.y, t.t, 11)),
  ];

  return {
    animation: false,
    backgroundColor: "#ffffff",
    textStyle: { fontFamily: FONT },
    grid, xAxis, yAxis, series, graphic,
    visualMap: [
      { type: "continuous", show: false, seriesIndex: heatIdx, dimension: 2, min: -2, max: 2, inRange: { color: heatStops } },
      { type: "continuous", show: false, seriesIndex: keggIdx, dimension: 2, min: 0.45, max: 10, inRange: { color: keggStops } },
    ],
  };
}

export default function App() {
  const ref = useRef<HTMLDivElement>(null);
  useEffect(() => {
    document.body.style.margin = "0";
    const chart = echarts.init(ref.current!, undefined, { renderer: "svg" });
    chart.setOption(buildOption() as any);
    return () => chart.dispose();
  }, []);
  return <div ref={ref} style={{ width: 784, height: 531 }} />;
}
